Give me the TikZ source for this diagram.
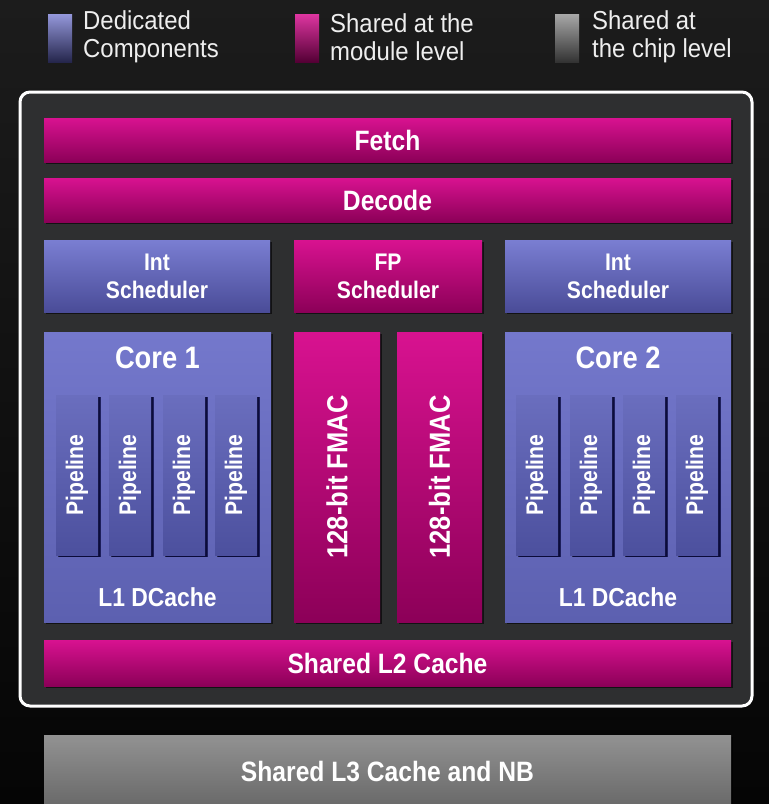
\documentclass[tikz,border=0pt]{standalone}
\usepackage{fontspec}
\setmainfont{Liberation Sans}
\newfontfamily\narrowbold[FakeStretch=0.88]{Liberation Sans Bold}
\newfontfamily\legendfont[FakeStretch=0.92]{Liberation Sans}
\usetikzlibrary{shadows}

\definecolor{bgtop}{HTML}{1C1C1C}
\definecolor{bgbot}{HTML}{050505}
\definecolor{panel}{HTML}{2E2F30}
\definecolor{magtop}{HTML}{D81290}
\definecolor{magbot}{HTML}{8C0058}
\definecolor{bluetop}{HTML}{7A7ED2}
\definecolor{bluebot}{HTML}{4A4C98}
\definecolor{coretop}{HTML}{7478CC}
\definecolor{corebot}{HTML}{5C60B0}
\definecolor{pipetop}{HTML}{6A6EBE}
\definecolor{pipebot}{HTML}{4C509E}
\definecolor{graytop}{HTML}{929292}
\definecolor{graybot}{HTML}{666666}
\definecolor{legtext}{HTML}{EEEEEE}

\tikzset{
  unit/.style={rectangle, inner sep=0pt, draw=none, text=white, align=center,
    drop shadow={shadow xshift=2pt, shadow yshift=-2pt, fill=black, opacity=0.6}},
  magbox/.style={unit, top color=magtop, bottom color=magbot},
  bluebox/.style={unit, top color=bluetop, bottom color=bluebot},
  corebox/.style={unit, top color=coretop, bottom color=corebot},
  pipebox/.style={unit, top color=pipetop, bottom color=pipebot,
    drop shadow={shadow xshift=3pt, shadow yshift=-2pt, fill=black!80!blue, opacity=0.7}},
  graybox/.style={unit, top color=graytop, bottom color=graybot},
  bigtxt/.style={font=\narrowbold\fontsize{28}{32}\selectfont},
  midtxt/.style={font=\narrowbold\fontsize{24}{28}\selectfont},
  coretxt/.style={font=\narrowbold\fontsize{31}{34}\selectfont, text=white},
  l1txt/.style={font=\narrowbold\fontsize{26}{30}\selectfont, text=white},
  pipetxt/.style={font=\narrowbold\fontsize{24}{28}\selectfont, text=white, rotate=90},
  fmactxt/.style={font=\narrowbold\fontsize{29}{32}\selectfont, text=white, rotate=90},
  swatch/.style={rectangle, inner sep=0pt, minimum width=24pt, minimum height=48pt},
  legend/.style={anchor=west, align=left, text=legtext, inner sep=0pt,
    font=\legendfont\fontsize{26}{28}\selectfont},
}

\begin{document}
\begin{tikzpicture}[x=1pt, y=-1pt]
  \useasboundingbox (0,0) rectangle (769,804);
  \shade[top color=bgtop, bottom color=bgbot] (0,0) rectangle (769,804);

  % legend
  \node[swatch, top color=bluetop!80!white, bottom color=bluebot!50!black] (swb) at (60,38) {};
  \node[legend] (lgb) at (83,37) {Dedicated\\Components};
  \node[swatch, top color=magtop!85!white, bottom color=magbot!60!black] (swm) at (307,38) {};
  \node[legend] (lgm) at (330,37) {Shared at the\\module level};
  \node[swatch, top color=graytop!80!white, bottom color=graybot!50!black] (swg) at (567,38) {};
  \node[legend] (lgg) at (592,37) {Shared at\\the chip level};

  % module frame
  \draw[white, line width=3pt, fill=panel, rounded corners=10pt] (20,92) rectangle (752,706);

  % front end
  \node[magbox, bigtxt, minimum width=687pt, minimum height=44pt] (fetch) at (387.5,140) {Fetch};
  \node[magbox, bigtxt, minimum width=687pt, minimum height=44pt] (decode) at (387.5,200) {Decode};

  % schedulers
  \node[bluebox, midtxt, minimum width=226pt, minimum height=72pt] (isch1) at (157,276) {Int\\Scheduler};
  \node[magbox, midtxt, minimum width=188pt, minimum height=72pt] (fpsch) at (388,276) {FP\\Scheduler};
  \node[bluebox, midtxt, minimum width=226pt, minimum height=72pt] (isch2) at (618,276) {Int\\Scheduler};

  % cores
  \node[corebox, minimum width=227pt, minimum height=290pt] (core1) at (157.5,477) {};
  \node[corebox, minimum width=226pt, minimum height=290pt] (core2) at (618,477) {};
  \node[coretxt] (c1t) at (157.5,358) {Core 1};
  \node[coretxt] (c2t) at (618,358) {Core 2};
  \node[l1txt] (c1l1) at (157.5,597) {L1 DCache};
  \node[l1txt] (c2l1) at (618,597) {L1 DCache};

  % pipelines
  \foreach \i/\x in {1/77, 2/130, 3/184, 4/236} {
    \node[pipebox, minimum width=42pt, minimum height=160pt] (pa\i) at (\x,475) {};
    \node[pipetxt] (pat\i) at (pa\i) {Pipeline};
  }
  \foreach \i/\x in {1/537, 2/591, 3/644, 4/697} {
    \node[pipebox, minimum width=42pt, minimum height=160pt] (pb\i) at (\x,475) {};
    \node[pipetxt] (pbt\i) at (pb\i) {Pipeline};
  }

  % floating point units
  \node[magbox, minimum width=86pt, minimum height=290pt] (fmac1) at (337,477) {};
  \node[magbox, minimum width=85pt, minimum height=290pt] (fmac2) at (439.5,477) {};
  \node[fmactxt] (f1t) at (fmac1) {128-bit FMAC};
  \node[fmactxt] (f2t) at (fmac2) {128-bit FMAC};

  % caches
  \node[magbox, bigtxt, minimum width=687pt, minimum height=46pt] (l2) at (387.5,663) {Shared L2 Cache};
  \node[graybox, minimum width=687pt, minimum height=76pt] (l3) at (387.5,773) {};
  \node[bigtxt, text=white] (l3t) at (387.5,772) {Shared L3 Cache and NB};
\end{tikzpicture}
\end{document}
